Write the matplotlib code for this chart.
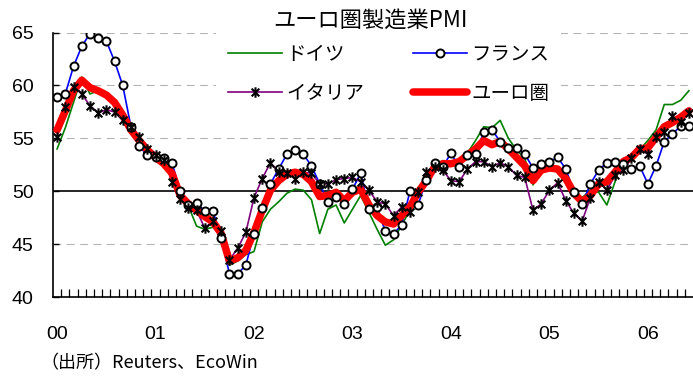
import matplotlib
matplotlib.use("Agg")
import matplotlib.pyplot as plt
import numpy as np
from matplotlib.lines import Line2D
from matplotlib.path import Path

plt.rcParams['font.family'] = ['Liberation Sans', 'Noto Sans CJK JP']
JP = ['Noto Sans CJK JP', 'Liberation Sans']

# 月次データ 2000年1月〜2006年6月
years = ["00", "01", "02", "03", "04", "05", "06"]

germany = [
    54.0, 56.0, 58.4, 60.8, 59.2, 59.5, 58.9, 58.3, 57.2, 56.1, 55.2, 53.8,
    53.5, 53.3, 52.0, 49.6, 48.6, 46.7, 46.4, 46.6, 45.8, 43.0, 43.4, 44.0,
    44.3, 47.1, 48.3, 49.0, 49.8, 50.2, 50.1, 49.2, 46.0, 48.3, 48.7, 47.0,
    48.3, 49.6, 48.0, 46.4, 44.9, 45.4, 46.8, 48.2, 49.8, 51.3, 52.0, 52.9,
    52.8, 53.0, 53.6, 54.8, 56.1, 56.0, 56.7, 55.0, 53.9, 53.1, 50.6, 52.1,
    52.2, 52.3, 51.2, 49.8, 49.4, 50.1, 49.9, 48.7, 50.9, 53.1, 52.9, 53.9,
    54.8, 55.8, 58.2, 58.2, 58.6, 59.5,
]
france = [
    58.9, 59.2, 61.8, 63.7, 64.9, 64.5, 64.2, 62.3, 60.0, 56.1, 54.3, 53.4,
    53.2, 53.1, 52.7, 50.0, 48.7, 48.9, 48.1, 48.1, 45.6, 42.2, 42.2, 43.0,
    46.0, 48.4, 50.7, 52.1, 53.5, 53.9, 53.5, 52.4, 50.7, 49.0, 49.5, 48.8,
    50.2, 51.7, 48.3, 48.5, 46.2, 46.0, 46.8, 50.0, 48.7, 51.1, 52.7, 52.3,
    53.6, 52.3, 53.4, 53.5, 55.6, 55.8, 54.7, 54.1, 54.1, 53.5, 52.2, 52.6,
    52.8, 53.2, 52.1, 49.9, 48.8, 50.7, 52.0, 52.7, 52.8, 52.6, 52.1, 52.4,
    50.7, 52.4, 54.7, 55.4, 56.2, 56.2,
]
italy = [
    55.1, 58.0, 59.9, 59.2, 58.1, 57.4, 57.7, 57.5, 56.7, 56.1, 55.1, 54.0,
    53.4, 53.0, 50.9, 49.3, 48.4, 48.2, 46.5, 47.2, 46.2, 43.5, 44.6, 46.1,
    49.4, 51.2, 52.7, 51.8, 51.7, 51.2, 51.8, 51.7, 50.7, 50.7, 51.1, 51.2,
    51.3, 50.9, 50.1, 49.0, 48.8, 47.7, 48.5, 48.0, 49.9, 51.8, 52.3, 52.0,
    51.0, 50.9, 52.1, 52.8, 52.8, 52.3, 52.7, 52.3, 51.5, 51.3, 48.2, 48.8,
    50.1, 50.8, 49.1, 47.9, 47.2, 49.4, 50.9, 50.1, 51.5, 52.0, 53.1, 54.0,
    53.5, 55.1, 55.6, 57.1, 56.5, 57.4,
]
eurozone = [
    55.8, 57.6, 59.5, 60.5, 59.8, 59.5, 59.1, 58.4, 57.2, 55.8, 54.8, 53.9,
    53.2, 52.6, 51.7, 49.6, 48.8, 48.2, 47.6, 47.1, 46.0, 43.4, 43.7, 44.4,
    46.1, 48.2, 50.1, 51.0, 51.6, 51.8, 51.6, 50.9, 49.5, 49.6, 49.9, 49.1,
    49.9, 50.2, 48.7, 47.7, 47.1, 46.9, 47.7, 48.5, 49.9, 51.0, 52.3, 52.6,
    52.6, 52.8, 53.4, 54.0, 54.8, 54.4, 54.7, 54.0, 53.2, 52.4, 51.0, 52.0,
    52.2, 52.1, 51.2, 49.8, 49.0, 49.6, 50.7, 50.9, 51.8, 52.8, 53.2, 54.0,
    54.1, 55.1, 56.1, 56.5, 57.0, 57.6,
]

x = np.arange(len(eurozone))

# アスタリスク型マーカー（×＋縦線）
star = Path(
    [(-1, -1), (1, 1), (-1, 1), (1, -1), (0, -1.35), (0, 1.35)],
    [Path.MOVETO, Path.LINETO, Path.MOVETO, Path.LINETO, Path.MOVETO, Path.LINETO],
)

fig = plt.figure(figsize=(6.93, 3.76), dpi=100)
ax = fig.add_axes([53 / 693, 79 / 376, 640 / 693, 264.4 / 376])

for v in [45, 55, 60, 65]:
    ax.axhline(v, color="#b4b4b4", lw=0.8, ls=(0, (7, 5)), zorder=1)
ax.axhline(50, color="black", lw=1.2, zorder=1.5)

ax.plot(x, germany, color="#008000", lw=1.2, zorder=2)
ax.plot(x, france, color="#0000ff", lw=1.2, zorder=2)
ax.plot(x, italy, color="#800080", lw=1.2, zorder=2)
ax.plot(x, eurozone, color="#ff0000", lw=5.4, solid_capstyle="round",
        solid_joinstyle="round", zorder=3)
ax.plot(x, france, ls="none", marker="o", ms=5.8, mfc="white", mec="black",
        mew=1.4, zorder=4)
ax.plot(x, italy, ls="none", marker=star, ms=7.5, mec="black", mew=1.5,
        zorder=4)

ax.set_xlim(-0.5, len(x) - 0.5)
ax.set_ylim(40, 65)
ax.set_yticks([40, 45, 50, 55, 60, 65])
ax.set_xticks(np.arange(0, len(x), 12))
ax.set_xticklabels(years)
ax.set_xticks(np.arange(0.5, len(x) - 0.5, 1), minor=True)
ax.tick_params(axis="x", which="major", length=0, pad=21, labelsize=14)
ax.tick_params(axis="x", which="minor", direction="in", length=5.5, width=0.9)
ax.tick_params(axis="y", direction="in", length=4, width=1, pad=14, labelsize=14)

for side in ["top", "right"]:
    ax.spines[side].set_visible(False)
for side in ["left", "bottom"]:
    ax.spines[side].set_linewidth(1.2)

handles = [
    Line2D([], [], color="#008000", lw=1.2),
    Line2D([], [], color="#800080", lw=1.2, marker=star, ms=7.5, mec="black", mew=1.5),
    Line2D([], [], color="#0000ff", lw=1.2, marker="o", ms=5.8, mfc="white", mec="black", mew=1.4),
    Line2D([], [], color="#ff0000", lw=5.4, solid_capstyle="round"),
]
labels = ["ドイツ", "イタリア", "フランス", "ユーロ圏"]
leg = ax.legend(handles, labels, ncol=2, loc="upper left",
                bbox_to_anchor=(0.255, 1.0), frameon=True, facecolor="white",
                edgecolor="none", framealpha=1, fancybox=False,
                prop={"family": JP, "size": 14}, handlelength=2.8,
                handletextpad=0.2, columnspacing=2.5, labelspacing=0.9,
                borderpad=0.6, borderaxespad=0)
leg.set_zorder(5)

fig.text(370 / 693, 1 - 20 / 376, "ユーロ圏製造業PMI", ha="center", va="center",
         family=JP, size=16)
fig.text(40 / 693, 1 - 363 / 376, "（出所）Reuters、EcoWin", ha="left",
         va="center", family=JP, size=13)

fig.savefig("out.png", dpi=100)
